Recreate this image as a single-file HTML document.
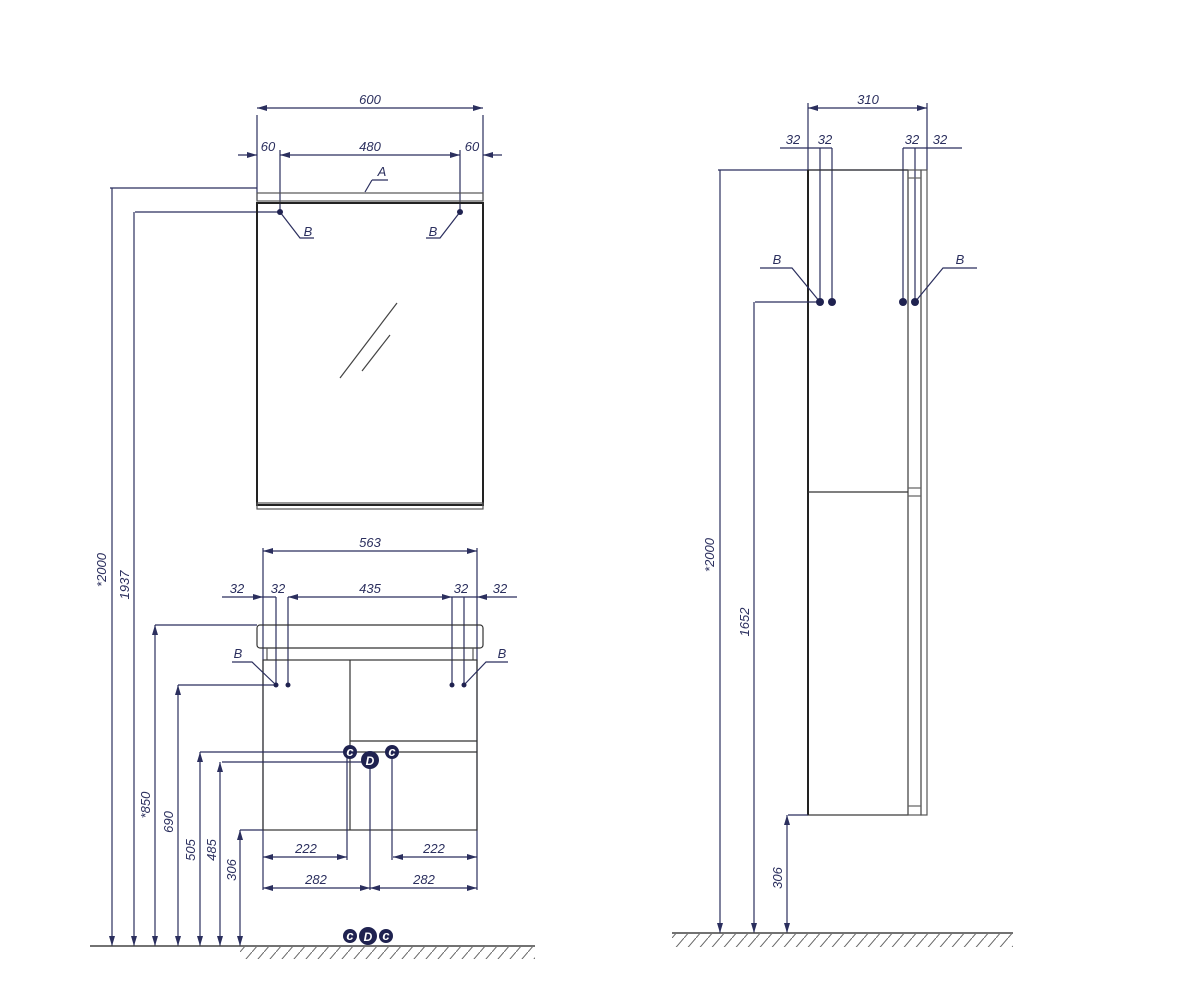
<!DOCTYPE html>
<html><head><meta charset="utf-8"><style>
html,body{margin:0;padding:0;background:#fff}
svg{display:block}
text{font-family:"Liberation Sans",sans-serif;font-style:italic;font-size:13px;fill:#2b2f5e}
</style></head><body>
<svg width="1200" height="1000" viewBox="0 0 1200 1000" xmlns="http://www.w3.org/2000/svg">
<defs>
<marker id="a" viewBox="0 0 10 6" refX="10" refY="3" markerWidth="10" markerHeight="6" orient="auto-start-reverse" markerUnits="userSpaceOnUse"><path d="M0,0L10,3L0,6z" fill="#2b2f5e"/></marker>
<pattern id="h" width="12" height="14" patternUnits="userSpaceOnUse"><path d="M0,14L12,0" stroke="#666" stroke-width="1"/></pattern>
</defs>
<g stroke="#2b2f5e" stroke-width="1.2" fill="none">
<!-- LEFT: mirror -->
<path d="M257,115V200M483,115V200"/>
<path d="M257,108H483" marker-start="url(#a)" marker-end="url(#a)"/>
<path d="M238,155H257" marker-end="url(#a)"/><path d="M502,155H483" marker-end="url(#a)"/>
<path d="M280,155H460" marker-start="url(#a)" marker-end="url(#a)"/>
<path d="M280,150V212M460,150V212"/>
<path d="M110,188H257M135,212H280"/>
<rect x="257" y="193" width="226" height="8" stroke="#555"/>
<rect x="257" y="203" width="226" height="302" stroke="#222" stroke-width="2"/>
<rect x="257" y="503" width="226" height="6" stroke="#555"/>
<path d="M372,180L365,192M372,180H388"/>
<path d="M280,212L300,238H314M460,212L440,238H426"/>
<path d="M340,378L397,303M362,371L390,335" stroke="#444"/>
<!-- cabinet -->
<path d="M263,548V890M477,548V890"/>
<path d="M263,551H477" marker-start="url(#a)" marker-end="url(#a)"/>
<path d="M276,597V685M288,597V685M452,597V685M464,597V685"/>
<path d="M222,597H263" marker-end="url(#a)"/><path d="M517,597H477" marker-end="url(#a)"/>
<path d="M288,597H452" marker-start="url(#a)" marker-end="url(#a)"/>
<path d="M263,597H276M452,597H477"/>
<rect x="257" y="625" width="226" height="23" rx="3" stroke="#333"/>
<path d="M267,648V660M473,648V660" stroke="#555"/>
<rect x="263" y="660" width="214" height="170" stroke="#333"/>
<path d="M350,660V830M350,741H477M350,752H477" stroke="#333"/>
<path d="M155,625H257M178,685H276M200,752H350M222,762H370M240,830H263"/>
<path d="M276,685L252,662H232M464,685L486,662H508"/>
<path d="M347,752V860M392,752V860M370,760V890"/>
<path d="M263,857H347" marker-start="url(#a)" marker-end="url(#a)"/>
<path d="M393,857H477" marker-start="url(#a)" marker-end="url(#a)"/>
<path d="M263,888H370" marker-start="url(#a)" marker-end="url(#a)"/>
<path d="M370,888H477" marker-start="url(#a)" marker-end="url(#a)"/>
<!-- vertical dims left -->
<path d="M112,188V946" marker-end="url(#a)"/>
<path d="M134,212V946" marker-end="url(#a)"/>
<path d="M155,625V946" marker-start="url(#a)" marker-end="url(#a)"/>
<path d="M178,685V946" marker-start="url(#a)" marker-end="url(#a)"/>
<path d="M200,752V946" marker-start="url(#a)" marker-end="url(#a)"/>
<path d="M220,762V946" marker-start="url(#a)" marker-end="url(#a)"/>
<path d="M240,830V946" marker-start="url(#a)" marker-end="url(#a)"/>
<path d="M90,946H535" stroke="#444" stroke-width="1.5"/>
<rect x="240" y="947" width="295" height="12" fill="url(#h)" stroke="none"/>
<!-- RIGHT view -->
<path d="M808,103V170M927,103V170"/>
<path d="M808,108H927" marker-start="url(#a)" marker-end="url(#a)"/>
<path d="M780,148H808M927,148H962M820,148V302M832,148V302M903,148V302M915,148V302M808,148H832M903,148H927"/>
<path d="M718,170H908"/>
<rect x="808" y="170" width="100" height="645" stroke="#333"/>
<path d="M808,170V815" stroke="#222" stroke-width="2"/>
<rect x="908" y="170" width="13" height="645" stroke="#555"/>
<rect x="921" y="170" width="6" height="645" stroke="#555"/>
<path d="M908,178H921M908,488H921M908,496H921M908,806H921" stroke="#666"/>
<path d="M808,492H908" stroke="#333"/>
<path d="M755,302H820M788,815H808"/>
<path d="M820,302L792,268H760M915,302L943,268H977"/>
<path d="M720,170V933" marker-end="url(#a)"/>
<path d="M754,302V933" marker-end="url(#a)"/>
<path d="M787,815V933" marker-start="url(#a)" marker-end="url(#a)"/>
<path d="M672,933H1013" stroke="#444" stroke-width="1.5"/>
<rect x="672" y="934" width="341" height="13" fill="url(#h)" stroke="none"/>
</g>
<g fill="#1f2250">
<circle cx="280" cy="212" r="3"/><circle cx="460" cy="212" r="3"/>
<circle cx="276" cy="685" r="2.5"/><circle cx="288" cy="685" r="2.5"/><circle cx="452" cy="685" r="2.5"/><circle cx="464" cy="685" r="2.5"/>
<circle cx="820" cy="302" r="4"/><circle cx="832" cy="302" r="4"/><circle cx="903" cy="302" r="4"/><circle cx="915" cy="302" r="4"/>
<circle cx="350" cy="752" r="7"/><circle cx="392" cy="752" r="7"/><circle cx="370" cy="760" r="9"/>
<circle cx="350" cy="936" r="7"/><circle cx="386" cy="936" r="7"/><circle cx="368" cy="936" r="9"/>
</g>
<g style="fill:#fff;font-size:10px;font-weight:bold" text-anchor="middle">
<text x="350" y="756" style="fill:#fff">c</text><text x="392" y="756" style="fill:#fff">c</text><text x="370" y="765" style="fill:#fff;font-size:12px">D</text>
<text x="350" y="940" style="fill:#fff">c</text><text x="386" y="940" style="fill:#fff">c</text><text x="368" y="941" style="fill:#fff;font-size:12px">D</text>
</g>
<g text-anchor="middle">
<text x="370" y="104">600</text>
<text x="268" y="151">60</text><text x="370" y="151">480</text><text x="472" y="151">60</text>
<text x="382" y="176">A</text>
<text x="308" y="236">B</text><text x="433" y="236">B</text>
<text x="370" y="547">563</text>
<text x="237" y="593">32</text><text x="278" y="593">32</text><text x="370" y="593">435</text><text x="461" y="593">32</text><text x="500" y="593">32</text>
<text x="238" y="658">B</text><text x="502" y="658">B</text>
<text x="306" y="853">222</text><text x="434" y="853">222</text>
<text x="316" y="884">282</text><text x="424" y="884">282</text>
<text x="868" y="104">310</text>
<text x="793" y="144">32</text><text x="825" y="144">32</text><text x="912" y="144">32</text><text x="940" y="144">32</text>
<text x="777" y="264">B</text><text x="960" y="264">B</text>
<text transform="translate(106,570) rotate(-90)">*2000</text>
<text transform="translate(129,585) rotate(-90)">1937</text>
<text transform="translate(150,805) rotate(-90)">*850</text>
<text transform="translate(173,822) rotate(-90)">690</text>
<text transform="translate(195,850) rotate(-90)">505</text>
<text transform="translate(216,850) rotate(-90)">485</text>
<text transform="translate(236,870) rotate(-90)">306</text>
<text transform="translate(714,555) rotate(-90)">*2000</text>
<text transform="translate(749,622) rotate(-90)">1652</text>
<text transform="translate(782,878) rotate(-90)">306</text>
</g>
</svg>
</body></html>
